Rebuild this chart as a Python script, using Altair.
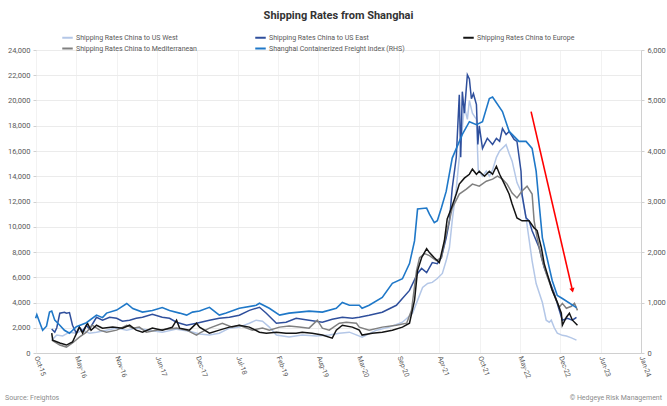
import altair as alt
import pandas as pd

# ---------------- data ----------------
SERIES = [
    "Shipping Rates China to US West",
    "Shipping Rates China to US East",
    "Shipping Rates China to Europe",
    "Shipping Rates China to Mediterranean",
    "Shanghai Containerized Freight Index (RHS)",
]
COLORS = ["#b4c7e7", "#2f4f9c", "#141414", "#808080", "#1f78c8"]

WEST_DATES = ["2016-01-07", "2016-02-01", "2016-03-01", "2016-04-04", "2016-05-08", "2016-06-08", "2016-07-12",
              "2016-08-16", "2016-10-05", "2016-11-24", "2017-01-13", "2017-03-01", "2017-05-05", "2017-07-08",
              "2017-09-17", "2017-11-20", "2018-01-09", "2018-02-27", "2018-04-17", "2018-06-06", "2018-07-25",
              "2018-09-13", "2018-10-17", "2018-11-17", "2018-12-21", "2019-01-25", "2019-03-29", "2019-06-02",
              "2019-08-11", "2019-10-14", "2019-12-03", "2020-01-22", "2020-03-25", "2020-06-04", "2020-08-07",
              "2020-10-11", "2020-11-30", "2020-12-25", "2021-01-19", "2021-02-13", "2021-03-08", "2021-04-02",
              "2021-04-27", "2021-05-16", "2021-06-01", "2021-06-15", "2021-07-05", "2021-07-20", "2021-07-30",
              "2021-08-14", "2021-08-29", "2021-09-08", "2021-09-23", "2021-10-13", "2021-10-22", "2021-11-12",
              "2021-12-01", "2021-12-16", "2022-01-01", "2022-01-20", "2022-02-05", "2022-03-09", "2022-03-24",
              "2022-04-08", "2022-05-02", "2022-05-22", "2022-06-16", "2022-07-01", "2022-07-16", "2022-08-05",
              "2022-09-05", "2022-09-24", "2022-10-09", "2022-10-19", "2022-11-03", "2022-11-18", "2022-12-13",
              "2023-01-02", "2023-01-27", "2023-02-21"]
WEST_VALUES = [1020, 1420, 1350, 1650, 1570, 1810, 1570,
               1650, 1810, 1970, 1810, 1970, 1810, 1650,
               1890, 1730, 1500, 1420, 1570, 1970, 2050,
               2360, 2600, 2520, 2050, 1420, 1260, 1420,
               1340, 1420, 1570, 1650, 1260, 1810, 2050,
               2440, 3150, 4170, 5190, 5510, 5590, 5900,
               6300, 7320, 8340, 10500, 13000, 15500, 17000,
               19500, 18500, 20000, 19000, 18500, 14500, 14000,
               14400, 14000, 14500, 15500, 16000, 16500, 15800,
               15200, 13500, 12800, 10700, 9000, 7300, 5500,
               4000, 2600, 2440, 2600, 2000, 1570, 1400,
               1340, 1200, 1020]

EAST_DATES = ["2016-01-07", "2016-01-22", "2016-02-01", "2016-02-16", "2016-03-10", "2016-03-20", "2016-04-04",
              "2016-04-19", "2016-05-08", "2016-05-23", "2016-06-08", "2016-06-27", "2016-07-12", "2016-08-16",
              "2016-09-15", "2016-10-20", "2016-11-24", "2016-12-23", "2017-01-27", "2017-03-01", "2017-04-01",
              "2017-05-20", "2017-07-08", "2017-08-13", "2017-09-17", "2017-11-06", "2017-12-25", "2018-02-27",
              "2018-04-17", "2018-06-06", "2018-07-25", "2018-09-13", "2018-11-02", "2018-12-06", "2019-01-25",
              "2019-03-14", "2019-05-03", "2019-07-06", "2019-09-10", "2019-10-29", "2019-12-18", "2020-02-06",
              "2020-03-11", "2020-04-29", "2020-07-03", "2020-09-11", "2020-11-15", "2020-12-25", "2021-01-14",
              "2021-02-08", "2021-03-08", "2021-04-02", "2021-04-22", "2021-05-16", "2021-06-01", "2021-06-15",
              "2021-07-05", "2021-07-20", "2021-07-27", "2021-08-04", "2021-08-14", "2021-08-29", "2021-09-08",
              "2021-09-18", "2021-09-28", "2021-10-13", "2021-10-20", "2021-10-27", "2021-11-12", "2021-12-06",
              "2022-01-01", "2022-01-20", "2022-02-05", "2022-02-19", "2022-03-09", "2022-03-24", "2022-04-18",
              "2022-05-02", "2022-05-22", "2022-05-27", "2022-06-16", "2022-07-01", "2022-07-16", "2022-08-20",
              "2022-09-14", "2022-10-09", "2022-11-03", "2022-11-28", "2022-12-13", "2023-01-07", "2023-02-01",
              "2023-02-21"]
EAST_VALUES = [1900, 1650, 2000, 3150, 3230, 3150, 3200,
               2200, 1570, 2050, 1730, 2200, 1890, 2830,
               2600, 2830, 2750, 2520, 2600, 2750, 2830,
               3070, 2830, 2750, 2440, 2200, 2360, 2600,
               2750, 2830, 2990, 3380, 3620, 3150, 2360,
               2440, 2750, 2600, 2440, 2680, 2830, 2750,
               2830, 2990, 3230, 3780, 4960, 6300, 6700,
               6370, 7160, 7080, 7550, 9130, 10470, 13060,
               15500, 20460, 15500, 20700, 19000, 22030, 21700,
               20140, 20540, 19670, 16520, 18000, 16210, 17000,
               16520, 17000, 16760, 17780, 17310, 17550, 16920,
               16760, 14400, 12590, 10700, 10470, 9680, 8340,
               6770, 5740, 4720, 3380, 2600, 2750, 2600,
               2830]

EUROPE_DATES = ["2016-01-07", "2016-01-12", "2016-02-16", "2016-03-20", "2016-04-19", "2016-05-23", "2016-06-08",
                "2016-07-02", "2016-07-20", "2016-08-16", "2016-09-15", "2016-11-04", "2016-12-23", "2017-01-27",
                "2017-03-01", "2017-04-01", "2017-05-20", "2017-07-08", "2017-08-27", "2017-09-17", "2017-10-02",
                "2017-11-20", "2017-12-25", "2018-01-09", "2018-02-27", "2018-04-17", "2018-06-06", "2018-07-25",
                "2018-09-13", "2018-11-02", "2018-12-06", "2019-01-25", "2019-03-14", "2019-05-03", "2019-06-02",
                "2019-07-21", "2019-09-10", "2019-10-29", "2019-11-18", "2019-12-18", "2020-02-06", "2020-03-11",
                "2020-03-25", "2020-05-14", "2020-07-03", "2020-08-22", "2020-10-11", "2020-11-15", "2020-12-10",
                "2020-12-25", "2021-01-14", "2021-02-08", "2021-02-22", "2021-03-18", "2021-04-12", "2021-05-07",
                "2021-05-21", "2021-06-11", "2021-07-05", "2021-07-20", "2021-08-14", "2021-09-08", "2021-09-23",
                "2021-10-13", "2021-10-27", "2021-11-22", "2021-12-16", "2022-01-01", "2022-01-20", "2022-02-05",
                "2022-03-01", "2022-03-24", "2022-04-08", "2022-05-02", "2022-05-27", "2022-07-01", "2022-07-26",
                "2022-08-10", "2022-08-31", "2022-09-14", "2022-10-09", "2022-10-24", "2022-11-18", "2022-12-08",
                "2022-12-13", "2023-01-02", "2023-01-17", "2023-02-01", "2023-02-26"]
EUROPE_VALUES = [1570, 1020, 790, 630, 870, 2050, 1570,
                 2360, 1800, 2200, 1970, 2050, 1970, 2200,
                 1810, 1650, 1970, 1810, 2050, 2600, 1970,
                 1810, 2360, 2050, 1570, 1810, 2050, 2200,
                 2050, 1650, 1570, 1650, 1570, 1570, 1650,
                 1570, 1420, 1180, 1810, 2200, 2050, 1810,
                 1420, 1570, 1650, 1810, 2050, 2360, 4170,
                 6530, 7550, 8260, 7950, 7550, 7160, 8890,
                 10620, 11490, 12590, 13380, 13850, 14160, 14560,
                 14160, 14400, 14000, 14400, 14160, 14790, 14160,
                 13380, 12590, 11800, 10700, 10470, 10470, 9910,
                 9700, 8340, 7080, 5740, 4960, 4010, 3150,
                 2200, 2830, 3150, 2600, 2200]

MED_DATES = ["2016-01-07", "2016-02-16", "2016-03-20", "2016-04-19", "2016-05-23", "2016-06-27", "2016-07-26",
             "2016-09-01", "2016-10-05", "2016-11-24", "2017-01-13", "2017-02-12", "2017-03-16", "2017-04-20",
             "2017-06-09", "2017-07-28", "2017-09-17", "2017-11-06", "2017-12-25", "2018-01-09", "2018-02-27",
             "2018-05-02", "2018-06-20", "2018-07-25", "2018-09-28", "2018-11-17", "2018-12-21", "2019-02-10",
             "2019-03-29", "2019-05-18", "2019-07-06", "2019-08-16", "2019-09-10", "2019-10-14", "2019-12-03",
             "2020-01-07", "2020-02-26", "2020-03-11", "2020-04-29", "2020-07-03", "2020-09-11", "2020-11-01",
             "2020-11-25", "2020-12-20", "2021-01-04", "2021-01-29", "2021-02-22", "2021-03-28", "2021-04-22",
             "2021-05-16", "2021-06-01", "2021-06-15", "2021-07-20", "2021-08-24", "2021-09-23", "2021-10-27",
             "2021-12-01", "2022-01-01", "2022-01-25", "2022-02-19", "2022-03-14", "2022-04-08", "2022-05-02",
             "2022-05-27", "2022-06-21", "2022-07-16", "2022-07-26", "2022-08-10", "2022-08-31", "2022-09-24",
             "2022-10-19", "2022-11-13", "2022-11-28", "2022-12-13", "2023-01-02", "2023-01-27", "2023-02-11",
             "2023-02-26"]
MED_VALUES = [1020, 630, 470, 790, 1260, 1650, 2200,
              1810, 1650, 1810, 2200, 1970, 2050, 1650,
              1810, 1890, 1970, 1810, 1420, 1570, 1970,
              2360, 2050, 2200, 1810, 1970, 1810, 2050,
              2130, 2050, 1970, 2600, 1970, 1810, 2360,
              2440, 2360, 2050, 1810, 2050, 2200, 2360,
              3380, 6530, 7550, 7870, 7710, 7320, 7550,
              9440, 10470, 11490, 12590, 12980, 13380, 13220,
              13610, 13770, 14010, 13770, 13380, 12670, 12280,
              12830, 13220, 12590, 10470, 9130, 7550, 6300,
              5190, 4170, 3620, 3930, 3540, 3700, 3930,
              3380]

SCFI_DATES = ["2015-10-19", "2015-10-25", "2015-11-08", "2015-11-23", "2015-12-12", "2015-12-27", "2016-01-07",
              "2016-01-22", "2016-02-16", "2016-03-10", "2016-04-04", "2016-05-08", "2016-06-27", "2016-08-16",
              "2016-09-15", "2016-10-05", "2016-11-24", "2017-01-13", "2017-02-12", "2017-04-01", "2017-05-20",
              "2017-07-08", "2017-08-13", "2017-10-02", "2017-11-06", "2017-12-05", "2018-01-09", "2018-02-27",
              "2018-04-17", "2018-05-21", "2018-07-25", "2018-10-17", "2018-11-02", "2018-12-21", "2019-02-10",
              "2019-03-29", "2019-05-18", "2019-07-06", "2019-09-10", "2019-11-18", "2019-12-18", "2020-01-22",
              "2020-03-11", "2020-03-25", "2020-04-29", "2020-07-03", "2020-08-22", "2020-10-11", "2020-11-15",
              "2020-12-10", "2020-12-25", "2021-02-08", "2021-02-22", "2021-03-18", "2021-04-02", "2021-04-22",
              "2021-05-16", "2021-06-15", "2021-08-04", "2021-09-08", "2021-10-13", "2021-11-12", "2021-12-16",
              "2022-01-01", "2022-02-19", "2022-03-24", "2022-05-12", "2022-06-16", "2022-07-16", "2022-08-05",
              "2022-08-20", "2022-09-05", "2022-10-09", "2022-10-24", "2022-11-18", "2022-12-13", "2023-02-21"]
SCFI_VALUES = [690, 760, 610, 450, 530, 810, 830,
               650, 550, 450, 390, 520, 600, 750,
               700, 790, 850, 980, 880, 810, 840,
               900, 840, 790, 750, 810, 830, 905,
               750, 790, 885, 945, 985, 885, 750,
               790, 810, 830, 810, 885, 1000, 945,
               945, 885, 945, 1100, 1380, 1470, 1770,
               2220, 2850, 2870, 2750, 2580, 2620, 2870,
               3200, 3860, 4330, 4580, 4520, 4580, 5040,
               5070, 4780, 4390, 4190, 4190, 4050, 3600,
               2950, 2280, 1690, 1430, 1140, 1080, 900]

# annotation arrow (in left-axis units)
ARROW_DATES = ["2022-07-11", "2023-02-01"]
ARROW_VALUES = [19120, 4960]

# axis ticks
X_TICKS = [(2015, 10, 21), (2016, 5, 8), (2016, 11, 24), (2017, 6, 12), (2017, 12, 29), (2018, 7, 17),
           (2019, 2, 2), (2019, 8, 21), (2020, 3, 8), (2020, 9, 24), (2021, 4, 12), (2021, 10, 29),
           (2022, 5, 17), (2022, 12, 3), (2023, 6, 21), (2024, 1, 7)]
LEFT_TICKS = [0, 2000, 4000, 6000, 8000, 10000, 12000, 14000, 16000, 18000, 20000, 22000, 24000]
RIGHT_TICKS = [0, 1000, 2000, 3000, 4000, 5000, 6000]

TITLE = "Shipping Rates from Shanghai"
SOURCE = "Source: Freightos"
COPYRIGHT = "\u00a9 Hedgeye Risk Management"

# ---------------- build tables ----------------
def frame(name, dates, values):
    return pd.DataFrame({"date": dates, "value": values, "series": name})

left_df = pd.concat([
    frame(SERIES[0], WEST_DATES, WEST_VALUES),
    frame(SERIES[1], EAST_DATES, EAST_VALUES),
    frame(SERIES[3], MED_DATES, MED_VALUES),
    frame(SERIES[2], EUROPE_DATES, EUROPE_VALUES),
], ignore_index=True)
right_df = frame(SERIES[4], SCFI_DATES, SCFI_VALUES)
arrow_df = pd.DataFrame({"date": ARROW_DATES, "value": ARROW_VALUES})
arrow_head_df = arrow_df.iloc[[1]]

W, H = 605, 303
FONT = "Roboto"
LABEL_COLOR = "#595959"

def dt(t):
    return alt.DateTime(year=t[0], month=t[1], date=t[2], utc=True)

x_enc = alt.X(
    "date:T",
    scale=alt.Scale(type="utc", domain=[dt(X_TICKS[0]), dt(X_TICKS[-1])]),
    axis=alt.Axis(
        values=[dt(t) for t in X_TICKS], format="%b-%y", title=None,
        labelAngle=70, labelAlign="left", labelBaseline="middle",
        labelFontSize=7, labelFont=FONT, labelColor=LABEL_COLOR, labelPadding=3,
        ticks=False, domainColor="#d0d0d0", grid=True, gridColor="#f2f2f2",
        labelOverlap=False,
    ),
)

color_enc = alt.Color(
    "series:N",
    sort=SERIES,
    scale=alt.Scale(domain=SERIES, range=COLORS),
    legend=alt.Legend(
        title=None, orient="none", legendX=25, legendY=-19, columns=3,
        direction="horizontal", symbolType="stroke", symbolSize=110,
        symbolStrokeWidth=2, labelFontSize=7, labelFont=FONT, labelColor=LABEL_COLOR,
        columnPadding=54, rowPadding=-5, gridAlign="each", labelLimit=300,
        labelOffset=2, padding=0,
    ),
)

left_y = alt.Y(
    "value:Q",
    scale=alt.Scale(domain=[0, 24000]),
    axis=alt.Axis(
        values=LEFT_TICKS, format=",.0f", title=None, labelFontSize=7.5, labelFont=FONT,
        labelColor=LABEL_COLOR, gridColor="#ebebeb", tickSize=3, tickColor="#d0d0d0",
        domain=False, labelPadding=3,
    ),
)

left_lines = alt.Chart(left_df).mark_line(strokeWidth=1.5).encode(
    x=x_enc, y=left_y, color=color_enc, detail="series:N"
)

arrow_line = alt.Chart(arrow_df).mark_line(color="#ff0000", strokeWidth=1.6).encode(
    x=x_enc, y=left_y
)
arrow_head = alt.Chart(arrow_head_df).mark_point(
    shape="triangle-down", filled=True, color="#ff0000", size=28, angle=347, opacity=1
).encode(x=x_enc, y=left_y)

one = pd.DataFrame({"k": [0]})
title_txt = alt.Chart(one).mark_text(
    fontSize=11, fontWeight="bold", font=FONT, color="#333333", align="center", baseline="middle"
).encode(x=alt.value(W / 2), y=alt.value(-34), text=alt.value(TITLE))
src_txt = alt.Chart(one).mark_text(
    fontSize=7, font=FONT, color="#8c8c8c", align="left", baseline="middle"
).encode(x=alt.value(-31), y=alt.value(H + 45), text=alt.value(SOURCE))
copy_txt = alt.Chart(one).mark_text(
    fontSize=7, font=FONT, color="#8c8c8c", align="right", baseline="middle"
).encode(x=alt.value(W + 21), y=alt.value(H + 45), text=alt.value(COPYRIGHT))

left_group = alt.layer(left_lines, arrow_line, arrow_head, title_txt, src_txt, copy_txt)

right_lines = alt.Chart(right_df).mark_line(strokeWidth=1.6).encode(
    x=x_enc,
    y=alt.Y(
        "value:Q",
        scale=alt.Scale(domain=[0, 6000]),
        axis=alt.Axis(
            values=RIGHT_TICKS, format=",.0f", title=None, orient="right", grid=False,
            labelFontSize=7.5, labelFont=FONT, labelColor=LABEL_COLOR, tickSize=3,
            tickColor="#d0d0d0", domainColor="#d0d0d0", labelPadding=3,
        ),
    ),
    color=color_enc,
)

chart = alt.layer(left_group, right_lines).resolve_scale(y="independent").properties(
    width=W, height=H, autosize="none",
    padding={"left": 36, "top": 50, "right": 26, "bottom": 53},
).configure_view(stroke=None).configure(background="white")

chart.save("out.html", embed_options={"renderer": "svg", "actions": False})
